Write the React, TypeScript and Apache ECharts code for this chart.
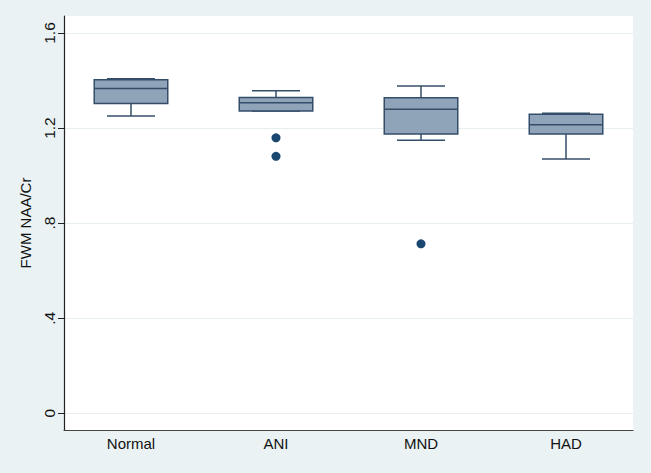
import React, { useEffect, useRef } from "react";
import * as echarts from "echarts";

const categories = ["Normal", "ANI", "MND", "HAD"];
const lowerWhisker = [1.251, 1.272, 1.149, 1.07];
const q1 = [1.303, 1.272, 1.175, 1.175];
const median = [1.367, 1.307, 1.279, 1.214];
const q3 = [1.403, 1.329, 1.328, 1.258];
const upperWhisker = [1.408, 1.357, 1.377, 1.262];
const outliers: [number, number][] = [
  [2, 1.159],
  [2, 1.081],
  [3, 0.713],
];
const yTickValues = [0, 0.4, 0.8, 1.2, 1.6];
const yTickLabels = ["0", ".4", ".8", "1.2", "1.6"];
const xTickValues = [1, 2, 3, 4];

const BOX_FILL = "#8fa3b9";
const BOX_LINE = "#344e69";
const DOT = "#1a476f";

export default function App() {
  const ref = useRef<HTMLDivElement>(null);
  useEffect(() => {
    if (!ref.current) return;
    const chart = echarts.init(ref.current, undefined, { renderer: "svg" });
    const boxData = categories.map((_, i) => [
      i + 1,
      lowerWhisker[i],
      q1[i],
      median[i],
      q3[i],
      upperWhisker[i],
    ]);
    const halfBox = 0.2535;
    const halfCap = 0.1655;
    const lineStyle = { stroke: BOX_LINE, lineWidth: 1.5 };
    chart.setOption({
      animation: false,
      backgroundColor: "#eaf2f3",
      textStyle: { fontFamily: "Liberation Sans, Arial, sans-serif" },
      grid: {
        left: 64,
        right: 18,
        top: 16,
        bottom: 43,
        show: true,
        backgroundColor: "#ffffff",
        borderWidth: 0,
      },
      xAxis: {
        type: "value",
        min: 0.538,
        max: 4.462,
        axisLine: { show: true, onZero: false, lineStyle: { color: "#444", width: 1.2 } },
        axisTick: { show: false },
        splitLine: { show: false },
        axisLabel: {
          customValues: xTickValues,
          formatter: (v: number) => categories[Math.round(v) - 1] ?? "",
          color: "#111",
          fontSize: 15,
          margin: 6,
        },
      },
      yAxis: {
        type: "value",
        min: -0.0703,
        max: 1.6715,
        name: "FWM NAA/Cr",
        nameLocation: "middle",
        nameGap: 28,
        nameRotate: 90,
        nameTextStyle: { color: "#111", fontSize: 15 },
        axisLine: { show: true, onZero: false, lineStyle: { color: "#222", width: 1.2 } },
        axisTick: {
          show: true,
          customValues: yTickValues,
          length: 6,
          lineStyle: { color: "#222", width: 1 },
        },
        axisLabel: {
          customValues: yTickValues,
          rotate: 90,
          color: "#111",
          fontSize: 15.5,
          margin: 7,
          formatter: (v: number) => {
            const idx = yTickValues.findIndex((t) => Math.abs(t - v) < 1e-6);
            return idx >= 0 ? yTickLabels[idx] : "";
          },
        },
        splitLine: { show: true, lineStyle: { color: "#e6eeef", width: 1 } },
      },
      series: [
        {
          type: "custom",
          data: boxData,
          encode: { x: 0, y: [1, 2, 3, 4, 5] },
          renderItem: (params: any, api: any) => {
            const x = api.value(0);
            const lw = api.value(1);
            const a = api.value(2);
            const m = api.value(3);
            const b = api.value(4);
            const uw = api.value(5);
            const tl = api.coord([x - halfBox, b]);
            const br = api.coord([x + halfBox, a]);
            const mL = api.coord([x - halfBox, m]);
            const mR = api.coord([x + halfBox, m]);
            const cTop = api.coord([x, uw]);
            const cQ3 = api.coord([x, b]);
            const cQ1 = api.coord([x, a]);
            const cBot = api.coord([x, lw]);
            const capTL = api.coord([x - halfCap, uw]);
            const capTR = api.coord([x + halfCap, uw]);
            const capBL = api.coord([x - halfCap, lw]);
            const capBR = api.coord([x + halfCap, lw]);
            return {
              type: "group",
              children: [
                {
                  type: "line",
                  shape: { x1: cTop[0], y1: cTop[1], x2: cQ3[0], y2: cQ3[1] },
                  style: lineStyle,
                },
                {
                  type: "line",
                  shape: { x1: cQ1[0], y1: cQ1[1], x2: cBot[0], y2: cBot[1] },
                  style: lineStyle,
                },
                {
                  type: "line",
                  shape: { x1: capTL[0], y1: capTL[1], x2: capTR[0], y2: capTR[1] },
                  style: lineStyle,
                },
                {
                  type: "line",
                  shape: { x1: capBL[0], y1: capBL[1], x2: capBR[0], y2: capBR[1] },
                  style: lineStyle,
                },
                {
                  type: "rect",
                  shape: {
                    x: tl[0],
                    y: tl[1],
                    width: br[0] - tl[0],
                    height: br[1] - tl[1],
                  },
                  style: { fill: BOX_FILL, stroke: BOX_LINE, lineWidth: 1.5 },
                },
                {
                  type: "line",
                  shape: { x1: mL[0], y1: mL[1], x2: mR[0], y2: mR[1] },
                  style: lineStyle,
                },
              ],
            };
          },
        },
        {
          type: "scatter",
          data: outliers,
          symbol: "circle",
          symbolSize: 9,
          itemStyle: { color: DOT, opacity: 1 },
        },
      ],
    });
    return () => chart.dispose();
  }, []);
  return (
    <div
      ref={ref}
      style={{ position: "fixed", left: 0, top: 0, width: 651, height: 473 }}
    />
  );
}
